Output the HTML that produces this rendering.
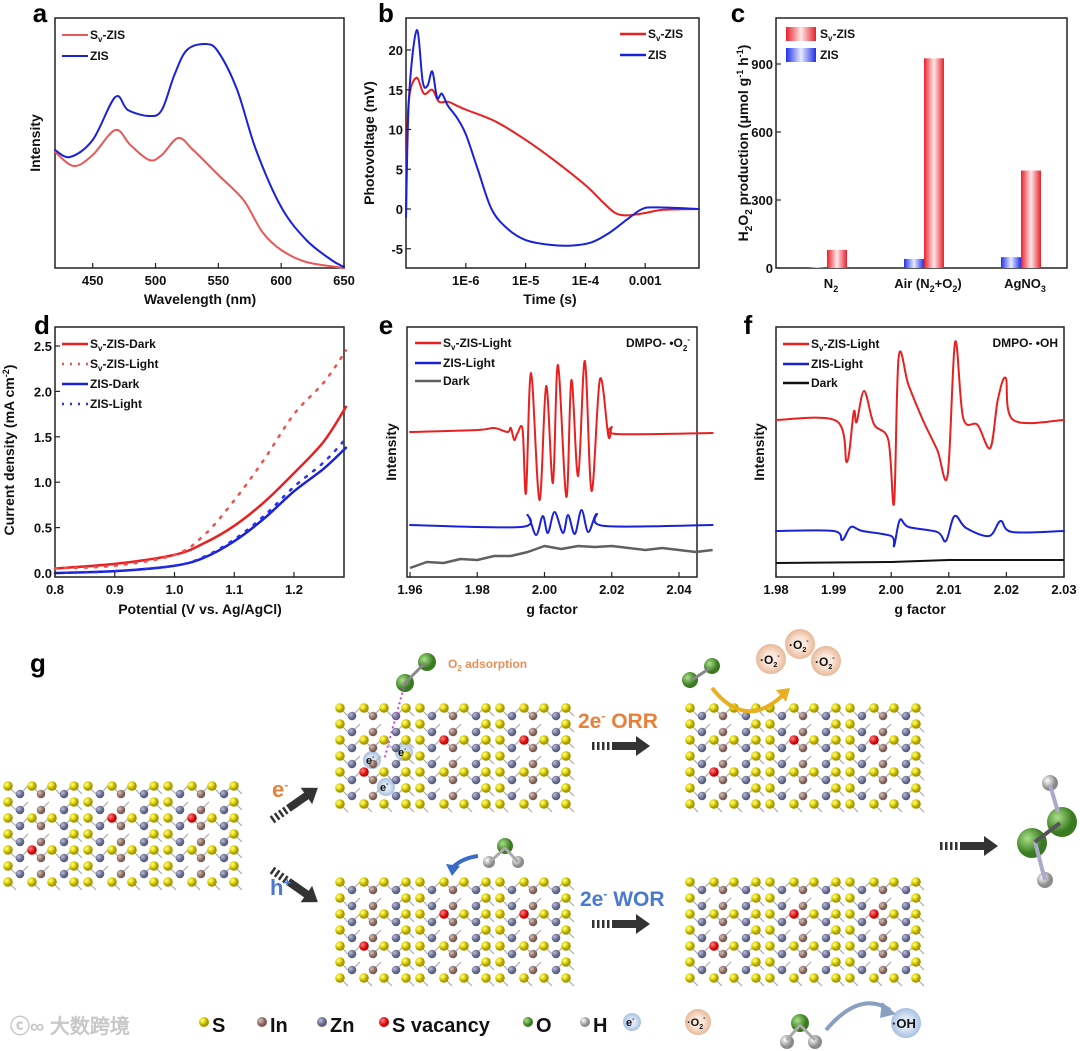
<!DOCTYPE html>
<html><head><meta charset="utf-8"><style>
body{margin:0;background:#fff;}
svg{display:block;font-family:"Liberation Sans",sans-serif;}
.t{font-weight:bold;font-size:14px;fill:#111;}
.tk{font-size:13px;fill:#111;font-weight:bold;}
.pl{font-weight:bold;font-size:26px;fill:#000;}
.lg{font-size:12px;font-weight:bold;fill:#111;}
</style></head><body>
<svg id="fig" width="1080" height="1051" viewBox="0 0 1080 1051" xmlns="http://www.w3.org/2000/svg">
<defs>
<linearGradient id="gr" x1="0" x2="1"><stop offset="0" stop-color="#e8202a"/><stop offset="0.5" stop-color="#ffe8e8"/><stop offset="1" stop-color="#e8202a"/></linearGradient>
<linearGradient id="gb" x1="0" x2="1"><stop offset="0" stop-color="#2030e8"/><stop offset="0.5" stop-color="#e8eaff"/><stop offset="1" stop-color="#2030e8"/></linearGradient>
<radialGradient id="aS" cx="0.35" cy="0.35"><stop offset="0" stop-color="#fffbb0"/><stop offset="0.5" stop-color="#e6de10"/><stop offset="1" stop-color="#a89a00"/></radialGradient>
<radialGradient id="aIn" cx="0.35" cy="0.35"><stop offset="0" stop-color="#d8c0b8"/><stop offset="1" stop-color="#7a5c54"/></radialGradient>
<radialGradient id="aZn" cx="0.35" cy="0.35"><stop offset="0" stop-color="#b8bcd8"/><stop offset="1" stop-color="#5a5e80"/></radialGradient>
<radialGradient id="aV" cx="0.35" cy="0.35"><stop offset="0" stop-color="#ff8080"/><stop offset="1" stop-color="#d00000"/></radialGradient>
<radialGradient id="aO" cx="0.35" cy="0.35"><stop offset="0" stop-color="#a8e088"/><stop offset="1" stop-color="#3a7a20"/></radialGradient>
<radialGradient id="aH" cx="0.35" cy="0.35"><stop offset="0" stop-color="#ffffff"/><stop offset="1" stop-color="#8a8a8a"/></radialGradient>
<radialGradient id="bE" cx="0.5" cy="0.5"><stop offset="0.4" stop-color="#dde8f6"/><stop offset="1" stop-color="#a8c0e0"/></radialGradient>
<radialGradient id="bO2" cx="0.5" cy="0.5"><stop offset="0.4" stop-color="#fbe8dc"/><stop offset="1" stop-color="#e8b898"/></radialGradient>
</defs>
<g id="charts"></g>
<g id="scheme"></g>
</svg>
<script>
// ---------- data ----------
const aWl=[420,435,450,468,480,495,505,518,530,550,570,585,600,620,650];
const aSv=[118,104,115,140,125,110,115,132,120,95,70,38,20,8,2];
const aWlZ=[420,432,450,468,478,495,505,515,525,540,550,565,580,600,620,640,650];
const aZIS=[120,113,130,173,160,154,160,195,220,226,218,180,120,63,30,10,3];
const bLogT=[-7,-6.96,-6.83,-6.7,-6.56,-6.45,-6.3,-6.15,-6,-5.5,-5,-4.5,-4,-3.7,-3.5,-3.3,-3,-2.7,-2.1];
const bSv=[0,13,16.5,14.5,15,13.5,13.5,13,12.5,11,8.7,6,3,0.8,-0.5,-0.8,-0.5,-0.1,0];
const bLogTZ=[-7,-6.95,-6.82,-6.72,-6.64,-6.56,-6.48,-6.4,-6.3,-6.15,-6,-5.8,-5.57,-5.3,-5,-4.6,-4.24,-3.9,-3.6,-3.3,-3.05,-2.8,-2.1];
const bZIS=[-1,14,22.5,16,15.5,17.3,14,14.5,13,11.5,9.4,5,0,-2.5,-3.9,-4.5,-4.6,-4.2,-3,-1.3,0,0.2,0];
const cCats=["N2","Air","AgNO3"];
const cSv=[80,925,430];
const cZIS=[4,40,48];
const dV=[0.8,0.9,1.0,1.05,1.1,1.15,1.2,1.25,1.287];
const dSvDark=[0.05,0.1,0.2,0.33,0.52,0.78,1.1,1.45,1.83];
const dSvLight=[0.05,0.08,0.2,0.42,0.8,1.25,1.75,2.1,2.45];
const dZDark=[0.0,0.02,0.08,0.17,0.35,0.6,0.9,1.15,1.38];
const dZLight=[0.0,0.02,0.08,0.18,0.37,0.63,0.95,1.22,1.48];
const eG=[1.96,1.98,1.985,1.989,1.990,1.991,1.992,1.9935,1.9945,1.996,1.9985,2.0005,2.0025,2.004,2.0065,2.008,2.010,2.012,2.014,2.0165,2.019,2.020,2.0215,2.05];
const eSv=[148,150,152,148,152,140,147,150,87,207,80,194,97,215,83,200,104,219,89,201,144,153,146,147];
const eGZ=[1.96,1.993,1.995,1.9975,1.9995,2.001,2.003,2.0055,2.007,2.009,2.011,2.013,2.0155,2.018,2.05];
const eZIS=[55,53,65,45,64,47,68,47,65,46,70,48,66,54,55];
const eGD=[1.96,1.965,1.97,1.975,1.98,1.985,1.99,1.995,2.0,2.005,2.01,2.015,2.02,2.025,2.03,2.035,2.04,2.045,2.05];
const eDark=[12,18,17,21,20,24,24,28,34,31,34,33,34,32,30,32,30,28,30];
const fG=[1.98,1.9905,1.9923,1.9935,1.994,1.9953,1.997,1.9995,2.0005,2.0013,2.003,2.0055,2.008,2.0098,2.0111,2.0125,2.015,2.0172,2.0185,2.0199,2.0212,2.03];
const fSv=[160,159,118,168,158,189,156,140,77,223,195,160,130,105,238,162,155,132,180,202,160,160];
const fGZ=[1.98,1.99,1.9915,1.993,1.995,2.0,2.0005,2.0015,2.003,2.008,2.0095,2.011,2.013,2.017,2.019,2.021,2.03];
const fZIS=[49,49,40,53,49,44,34,60,53,48,39,64,52,44,59,48,49];
const fGD=[1.98,2.0,2.01,2.03];
const fDark=[17,18,20,20];

const NS="http://www.w3.org/2000/svg";
const C=document.getElementById('charts');
function el(tag,attrs,parent){const e=document.createElementNS(NS,tag);for(const k in attrs)e.setAttribute(k,attrs[k]);(parent||C).appendChild(e);return e;}
function lin(d0,d1,r0,r1){return v=>r0+(v-d0)*(r1-r0)/(d1-d0);}
function txt(x,y,s,cls,anchor,parent){const t=el('text',{x:x,y:y,class:cls,'text-anchor':anchor||'middle'},parent);t.innerHTML=s;return t;}
function path(xs,ys,fx,fy,stroke,w,dash,name){let d='';xs.forEach((x,i)=>{d+=(i?'L':'M')+fx(x).toFixed(1)+','+fy(ys[i]).toFixed(1);});
 const p=el('path',{d:d,fill:'none',stroke:stroke,'stroke-width':w,'stroke-linejoin':'round'});if(dash)p.setAttribute('stroke-dasharray',dash);
 
 
 return p;}
function smooth(xs,ys,fx,fy,stroke,w,dash,name){const P=xs.map((x,i)=>[fx(x),fy(ys[i])]);let d='M'+P[0][0]+','+P[0][1];
 for(let i=0;i<P.length-1;i++){const p0=P[Math.max(0,i-1)],p1=P[i],p2=P[i+1],p3=P[Math.min(P.length-1,i+2)];
 d+='C'+(p1[0]+(p2[0]-p0[0])/6)+','+(p1[1]+(p2[1]-p0[1])/6)+' '+(p2[0]-(p3[0]-p1[0])/6)+','+(p2[1]-(p3[1]-p1[1])/6)+' '+p2[0]+','+p2[1];}
 const p=el('path',{d:d,fill:'none',stroke:stroke,'stroke-width':w,'stroke-linecap':'round'});if(dash)p.setAttribute('stroke-dasharray',dash);
 
 
 return p;}
function box(x0,y0,x1,y1,name){const r=el('rect',{x:x0,y:y0,width:x1-x0,height:y1-y0,fill:'none',stroke:'#222','stroke-width':1.5});
 
 }
function xticks(vals,labels,fx,y1,y0){vals.forEach((v,i)=>{el('line',{x1:fx(v),x2:fx(v),y1:y1,y2:y1-5,stroke:'#222','stroke-width':1.2});
 const t=txt(fx(v),y1+17,labels[i],'tk');
 
 });}
function yticks(vals,labels,fy,x0){vals.forEach((v,i)=>{el('line',{x1:x0,x2:x0+5,y1:fy(v),y2:fy(v),stroke:'#222','stroke-width':1.2});
 const t=txt(x0-3,fy(v)+5,labels[i],'tk','end');
 
 });}
function ytitle(x,y,s,name){const t=el('text',{x:0,y:0,class:'t','text-anchor':'middle',transform:`translate(${x},${y}) rotate(-90)`});t.innerHTML=s;
 
 }
function legLine(x,y,color,dash,label,w){const l=el('line',{x1:x,x2:x+26,y1:y,y2:y,stroke:color,'stroke-width':w||2.5});if(dash)l.setAttribute('stroke-dasharray',dash);
 
 
 const t=txt(x+28,y+4,label,'lg','start');
 
 }
const SV='S<tspan font-size="8" dy="3">v</tspan><tspan dy="-3">-ZIS</tspan>';

// ---------- panel a ----------
{const fx=lin(420,650,55,344),fy=lin(2,252,268,18);
box(55,18,344,268,'panel-a-frame');
smooth(aWl,aSv,fx,fy,'#e85858',2,null,'line-sv-zis');
smooth(aWlZ,aZIS,fx,fy,'#1a22d8',2,null,'line-zis');
xticks([450,500,550,600,650],['450','500','550','600','650'],fx,268);
txt(200,304,'Wavelength (nm)','t');
ytitle(40,143,'Intensity','y-axis-title');
legLine(62,35,'#e85858',null,SV,2);legLine(62,56,'#1a22d8',null,'ZIS',2);
txt(40,22,'a','pl');}
// ---------- panel b ----------
{const fx=lin(-7,-2.1,406,699),fy=lin(0,20,209,50);
box(406,18,699,268,'panel-b-frame');
smooth(bLogT,bSv,fx,fy,'#e82020',2,null,'line-sv-zis');
smooth(bLogTZ,bZIS,fx,fy,'#1a22d8',2,null,'line-zis');
xticks([-6,-5,-4,-3],['1E-6','1E-5','1E-4','0.001'],fx,268);
yticks([-5,0,5,10,15,20],['-5','0','5','10','15','20'],fy,406);
txt(550,304,'Time (s)','t');
ytitle(374,143,'Photovoltage (mV)','y-axis-title');
legLine(620,34,'#e82020',null,SV);legLine(620,55,'#1a22d8',null,'ZIS');
txt(386,22,'b','pl');}
// ---------- panel c ----------
{const fy=lin(0,900,268,64);const cx=[831,928,1025];
box(776,18,1067,268,'panel-c-frame');
cCats.forEach((c,i)=>{const r1=el('rect',{x:cx[i]-24,y:fy(cZIS[i]),width:20,height:268-fy(cZIS[i]),fill:'url(#gb)'});
 
 
 const r2=el('rect',{x:cx[i]-4,y:fy(cSv[i]),width:20,height:268-fy(cSv[i]),fill:'url(#gr)'});
 
 });
const lbl=['N<tspan font-size="9" dy="4">2</tspan>','Air (N<tspan font-size="9" dy="4">2</tspan><tspan dy="-4">+O</tspan><tspan font-size="9" dy="4">2</tspan><tspan dy="-4">)</tspan>','AgNO<tspan font-size="9" dy="4">3</tspan>'];
cx.forEach((x,i)=>{const t=txt(x,288,lbl[i],'tk');});
yticks([0,300,600,900],['0','300','600','900'],fy,776);
ytitle(748,143,'H<tspan font-size="10" dy="4">2</tspan><tspan dy="-4">O</tspan><tspan font-size="10" dy="4">2</tspan><tspan dy="-4"> production (μmol g</tspan><tspan font-size="9" dy="-5">-1</tspan><tspan dy="5"> h</tspan><tspan font-size="9" dy="-5">-1</tspan><tspan dy="5">)</tspan>','y-axis-title');
const s1=el('rect',{x:786,y:27,width:30,height:14,fill:'url(#gr)'});
txt(820,38,SV,'lg','start');
const s2=el('rect',{x:786,y:48,width:30,height:14,fill:'url(#gb)'});
txt(820,59,'ZIS','lg','start');
txt(738,22,'c','pl');}
// ---------- panel d ----------
{const fx=lin(0.8,1.2,55,294),fy=lin(0,2.5,573,346);
box(55,327,344,577,'panel-d-frame');
smooth(dV,dSvDark,fx,fy,'#e82020',2.5,null,'line-sv-zis-dark');
smooth(dV,dSvLight,fx,fy,'#f05050',2.5,'2 8','line-sv-zis-light');
smooth(dV,dZDark,fx,fy,'#1a22d8',2.5,null,'line-zis-dark');
smooth(dV,dZLight,fx,fy,'#2a32e8',2.5,'2 8','line-zis-light');
xticks([0.8,0.9,1.0,1.1,1.2],['0.8','0.9','1.0','1.1','1.2'],fx,577);
yticks([0,0.5,1,1.5,2,2.5],['0.0','0.5','1.0','1.5','2.0','2.5'],fy,55);
txt(200,614,'Potential (V vs. Ag/AgCl)','t');
ytitle(14,450,'Current density (mA cm<tspan font-size="9" dy="-5">-2</tspan><tspan dy="5">)</tspan>','y-axis-title');
legLine(62,344,'#e82020',null,SV+'<tspan>-Dark</tspan>');legLine(62,364,'#f05050','2 6',SV+'<tspan>-Light</tspan>');
legLine(62,384,'#1a22d8',null,'ZIS-Dark');legLine(62,404,'#2a32e8','2 6','ZIS-Light');
txt(42,334,'d','pl');}
// ---------- panel e ----------
{const fx=lin(1.96,2.04,410,679),fy=lin(3,253,577,327);
box(407,327,697,577,'panel-e-frame');
path(eGD,eDark,fx,fy,'#606060',2.5,null,'line-dark');
smooth(eGZ,eZIS,fx,fy,'#1a22d8',2,null,'line-zis-light');
smooth(eG,eSv,fx,fy,'#e82020',2,null,'line-sv-zis-light');
xticks([1.96,1.98,2.0,2.02,2.04],['1.96','1.98','2.00','2.02','2.04'],fx,577);
txt(552,614,'g factor','t');
ytitle(396,452,'Intensity','y-axis-title');
legLine(415,343,'#e82020',null,SV+'<tspan>-Light</tspan>');legLine(415,363,'#1a22d8',null,'ZIS-Light');legLine(415,381,'#606060',null,'Dark');
txt(690,347,'DMPO- •O<tspan font-size="8" dy="4">2</tspan><tspan font-size="8" dy="-9">-</tspan>','lg','end');
txt(386,334,'e','pl');}
// ---------- panel f ----------
{const fx=lin(1.98,2.03,776,1064),fy=lin(3,253,577,327);
box(776,327,1064,577,'panel-f-frame');
path(fGD,fDark,fx,fy,'#111',2,null,'line-dark');
smooth(fGZ,fZIS,fx,fy,'#1a22d8',2,null,'line-zis-light');
smooth(fG,fSv,fx,fy,'#e82020',2,null,'line-sv-zis-light');
xticks([1.98,1.99,2.0,2.01,2.02,2.03],['1.98','1.99','2.00','2.01','2.02','2.03'],fx,577);
txt(920,614,'g factor','t');
ytitle(764,452,'Intensity','y-axis-title');
legLine(783,344,'#e82020',null,SV+'<tspan>-Light</tspan>');legLine(783,364,'#1a22d8',null,'ZIS-Light');legLine(783,383,'#111',null,'Dark');
txt(1058,347,'DMPO- •OH','lg','end');
txt(748,334,'f','pl');}

// ---------- scheme g ----------
const G=document.getElementById('scheme');
function atom(x,y,r,fill,name,par){const c=el('circle',{cx:x,cy:y,r:r,fill:fill},par);
 
 return c;}
function slab(x0,y0,vac){const g=el('g',{},G);
 
 
 // honeycomb-like sparse layout
 const cols=[[0,'S',0],[12,'Zn',8],[24,'S',0],[33,'In',8],[44,'S',0],[56,'Zn',8],[66,'S',0]];
 for(let r=0;r<7;r++){cols.forEach(([dx,t,dy],ci)=>{if(r==6&&dy)return;if((ci==2||ci==4)&&r%2)return;
  const x=x0+dx,y=y0+r*16+dy;
  el('line',{x1:x,y1:y,x2:x+8,y2:y+(dy?-8:8),stroke:'#aaa','stroke-width':1.2},g);});}
 for(let r=0;r<7;r++){cols.forEach(([dx,t,dy],ci)=>{if(r==6&&dy)return;if((ci==2||ci==4)&&r%2)return;
  const x=x0+dx,y=y0+r*16+dy;
  let f=t=='S'?'url(#aS)':t=='Zn'?'url(#aZn)':'url(#aIn)',nm=t=='S'?'s-atom':t=='Zn'?'zn-atom':'in-atom';
  if(vac&&vac[0]==r&&vac[1]==dx){f='url(#aV)';nm='s-vacancy';}
  atom(x,y,t=='S'?4.8:4.3,f,nm,g);});}}
[[8,786,[4,24]],[88,786,[2,24]],[168,786,[2,24]]].forEach(s=>slab(...s));
[[340,708,[4,24]],[420,708,[2,24]],[500,708,[2,24]]].forEach(s=>slab(...s));
[[690,708,[4,24]],[770,708,[2,24]],[850,708,[2,24]]].forEach(s=>slab(...s));
[[340,882,[4,24]],[420,882,[2,24]],[500,882,[2,24]]].forEach(s=>slab(...s));
[[690,882,[4,24]],[770,882,[2,24]],[850,882,[2,24]]].forEach(s=>slab(...s));
function darrow(x,y,len,rot,name){const g=el('g',{transform:`translate(${x},${y}) rotate(${rot||0})`},G);
 
 
 for(let i=0;i<4;i++)el('rect',{x:i*5,y:-4,width:2.5,height:8,fill:'#333'},g);
 el('rect',{x:20,y:-4,width:len-32,height:8,fill:'#333'},g);
 el('path',{d:`M${len-14},-10 L${len},0 L${len-14},10Z`,fill:'#333'},g);}
darrow(272,820,56,-35,'arrow-to-orr');darrow(272,870,56,35,'arrow-to-wor');
darrow(592,746,58,0,'arrow-orr');darrow(592,924,58,0,'arrow-wor');darrow(940,846,58,0,'arrow-to-h2o2');
function label(x,y,s,color,size,name){const t=el('text',{x:x,y:y,fill:color,'font-size':size,'font-weight':'bold','text-anchor':'start'},G);t.innerHTML=s;
 
 }
label(30,672,'g','#000',26,'panel-g-label');
label(272,797,'e<tspan font-size="12" dy="-8">-</tspan>','#e8803a',22,'electron-label');
label(270,895,'h<tspan font-size="13" dy="-8">+</tspan>','#4a7ad0',22,'hole-label');
label(578,728,'2e<tspan font-size="12" dy="-8">-</tspan><tspan dy="8"> ORR</tspan>','#e8803a',21,'orr-label');
label(580,906,'2e<tspan font-size="12" dy="-8">-</tspan><tspan dy="8">  WOR</tspan>','#4a7ad0',21,'wor-label');
label(448,668,'O<tspan font-size="8" dy="3">2</tspan><tspan dy="-3"> adsorption</tspan>','#e8905a',12,'o2-adsorption-label');
el('line',{x1:405,y1:683,x2:384,y2:760,stroke:'#d040e0','stroke-width':2,'stroke-dasharray':'2 3'},G);
el('line',{x1:405,y1:683,x2:425,y2:663,stroke:'#888','stroke-width':3},G);
atom(405,683,9,'url(#aO)','o-atom');atom(427,662,9,'url(#aO)','o-atom');
[[372,760],[404,752],[386,787]].forEach(p=>{atom(p[0],p[1],9,'url(#bE)','electron-bubble');label(p[0]-6,p[1]+4,'e<tspan font-size="7" dy="-5">-</tspan>','#111',11,'electron-text');});
el('path',{d:'M712,688 Q745,730 782,696',fill:'none',stroke:'#e8b020','stroke-width':4},G);
el('path',{d:'M776,690 L790,688 L786,702Z',fill:'#e8b020'},G);
el('line',{x1:692,y1:680,x2:710,y2:668,stroke:'#888','stroke-width':3},G);
atom(690,680,8,'url(#aO)','o-atom');atom(712,666,8,'url(#aO)','o-atom');
[[771,659],[800,644],[826,661]].forEach(p=>{atom(p[0],p[1],15,'url(#bO2)','superoxide-bubble');label(p[0]-11,p[1]+5,'·O<tspan font-size="7" dy="3">2</tspan><tspan font-size="7" dy="-9">-</tspan>','#111',12,'superoxide-text');});
el('path',{d:'M478,856 Q462,858 452,868',fill:'none',stroke:'#3a6ac8','stroke-width':4},G);
el('path',{d:'M446,864 L452,876 L460,866Z',fill:'#3a6ac8'},G);
el('line',{x1:505,y1:848,x2:490,y2:862,stroke:'#aaa','stroke-width':3},G);el('line',{x1:505,y1:848,x2:518,y2:862,stroke:'#aaa','stroke-width':3},G);
atom(505,846,8,'url(#aO)','o-atom');atom(489,862,6,'url(#aH)','h-atom');atom(518,862,6,'url(#aH)','h-atom');
el('line',{x1:1050,y1:785,x2:1058,y2:812,stroke:'#aac',"stroke-width":4},G);el('line',{x1:1035,y1:842,x2:1045,y2:880,stroke:'#aac',"stroke-width":4},G);
el('line',{x1:1035,y1:842,x2:1060,y2:823,stroke:'#555',"stroke-width":4},G);
atom(1050,783,8,'url(#aH)','h-atom');atom(1062,822,15,'url(#aO)','o-atom');atom(1032,843,15,'url(#aO)','o-atom');atom(1045,880,8,'url(#aH)','h-atom');
el('path',{d:'M826,1030 Q860,990 890,1010',fill:'none',stroke:'#8aa0c0','stroke-width':4},G);
el('path',{d:'M882,1002 L896,1014 L880,1018Z',fill:'#8aa0c0'},G);
el('line',{x1:800,y1:1025,x2:787,y2:1040,stroke:'#aaa','stroke-width':3},G);el('line',{x1:800,y1:1025,x2:815,y2:1040,stroke:'#aaa','stroke-width':3},G);
atom(800,1023,9,'url(#aO)','o-atom');atom(787,1042,7,'url(#aH)','h-atom');atom(815,1042,7,'url(#aH)','h-atom');
atom(906,1023,15,'url(#bE)','hydroxyl-bubble');label(892,1028,'·OH','#111',13,'hydroxyl-text');
const lx=[[204,'url(#aS)','S'],[262,'url(#aIn)','In'],[322,'url(#aZn)','Zn'],[384,'url(#aV)','S vacancy'],[528,'url(#aO)','O'],[585,'url(#aH)','H']];
lx.forEach(l=>{atom(l[0],1022,5,l[1],'legend-atom');label(l[0]+8,1032,l[2],'#111',20,'legend-label');});
atom(632,1022,9,'url(#bE)','legend-electron');label(626,1026,'e<tspan font-size="7" dy="-5">-</tspan>','#111',11,'legend-electron-text');
atom(698,1022,13,'url(#bO2)','legend-superoxide');label(687,1026,'·O<tspan font-size="7" dy="3">2</tspan><tspan font-size="7" dy="-9">-</tspan>','#111',11,'legend-superoxide-text');
label(10,1033,'ⓒ∞ 大数跨境','#c8c8c8',20,'watermark');
</script>
</body></html>
